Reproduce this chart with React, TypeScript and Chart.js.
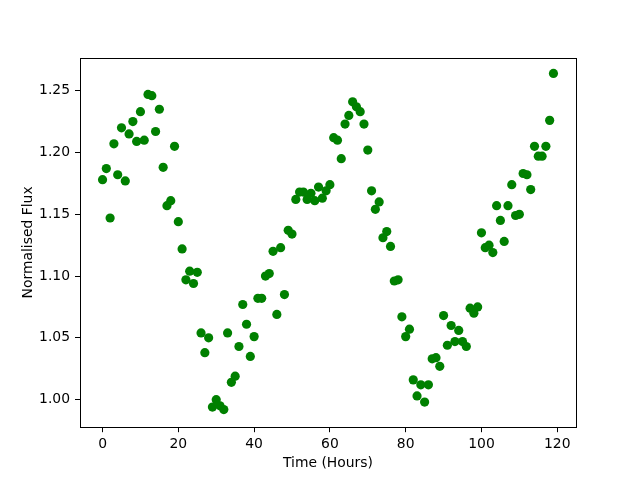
import React, { useEffect, useRef } from "react";
import { Chart, registerables } from "chart.js";

Chart.register(...registerables);

const hours = [
  0, 1, 2, 3, 4, 5, 6, 7, 8, 9, 10, 11, 12, 13, 14, 15, 16, 17, 18, 19,
  20, 21, 22, 23, 24, 25, 26, 27, 28, 29, 30, 31, 32, 33, 34, 35, 36, 37, 38, 39,
  40, 41, 42, 43, 44, 45, 46, 47, 48, 49, 50, 51, 52, 53, 54, 55, 56, 57, 58, 59,
  60, 61, 62, 63, 64, 65, 66, 67, 68, 69, 70, 71, 72, 73, 74, 75, 76, 77, 78, 79,
  80, 81, 82, 83, 84, 85, 86, 87, 88, 89, 90, 91, 92, 93, 94, 95, 96, 97, 98, 99,
  100, 101, 102, 103, 104, 105, 106, 107, 108, 109, 110, 111, 112, 113, 114, 115, 116, 117, 118, 119,
];

const flux = [
  1.178, 1.187, 1.147, 1.207, 1.182, 1.220, 1.177, 1.215, 1.225, 1.209,
  1.233, 1.210, 1.247, 1.246, 1.217, 1.235, 1.188, 1.157, 1.161, 1.205,
  1.144, 1.122, 1.097, 1.104, 1.094, 1.103, 1.054, 1.038, 1.050, 0.994,
  1.000, 0.995, 0.992, 1.054, 1.014, 1.019, 1.043, 1.077, 1.061, 1.035,
  1.051, 1.082, 1.082, 1.100, 1.102, 1.120, 1.069, 1.123, 1.085, 1.137,
  1.134, 1.162, 1.168, 1.168, 1.162, 1.167, 1.161, 1.172, 1.163, 1.169,
  1.174, 1.212, 1.210, 1.195, 1.223, 1.230, 1.241, 1.237, 1.233, 1.223,
  1.202, 1.169, 1.154, 1.160, 1.131, 1.136, 1.124, 1.096, 1.097, 1.067,
  1.051, 1.057, 1.016, 1.003, 1.012, 0.998, 1.012, 1.033, 1.034, 1.027,
  1.068, 1.044, 1.060, 1.047, 1.056, 1.047, 1.043, 1.074, 1.070, 1.075,
  1.135, 1.123, 1.125, 1.119, 1.157, 1.145, 1.128, 1.157, 1.174, 1.149,
  1.150, 1.183, 1.182, 1.170, 1.205, 1.197, 1.197, 1.205, 1.226, 1.264,
];

const xTicks = [0, 20, 40, 60, 80, 100, 120];
const yTicks = [1.0, 1.05, 1.1, 1.15, 1.2, 1.25];
const xLimits = [-5.95, 124.95];
const yLimits = [0.9777, 1.2768];
const xTitle = "Time (Hours)";
const yTitle = "Normalised Flux";

const FONT = { family: "'DejaVu Sans', sans-serif", size: 13.9, lineHeight: 1.2 };

const framePlugin = {
  id: "frame",
  afterDraw(chart: any) {
    const { ctx, chartArea } = chart;
    ctx.save();
    ctx.strokeStyle = "#000";
    ctx.lineWidth = 1;
    const l = Math.round(chartArea.left) + 0.5;
    const t = Math.round(chartArea.top) + 0.5;
    const r = Math.round(chartArea.right) + 0.5;
    const b = Math.round(chartArea.bottom) + 0.5;
    ctx.strokeRect(l, t, r - l, b - t);
    ctx.restore();
  },
};

export default function App() {
  const ref = useRef<HTMLCanvasElement>(null);
  useEffect(() => {
    if (!ref.current) return;
    const points = hours.map((h, i) => ({ x: h, y: flux[i] }));
    const chart = new Chart(ref.current, {
      type: "scatter",
      data: {
        datasets: [
          {
            data: points,
            backgroundColor: "#008000",
            borderWidth: 0,
            pointRadius: 4.6,
            pointHoverRadius: 4.6,
          },
        ],
      },
      options: {
        animation: false,
        responsive: false,
        devicePixelRatio: 1,
        layout: { padding: { top: 57.6, right: 64, left: 0, bottom: 0 } },
        plugins: { legend: { display: false }, tooltip: { enabled: false } },
        events: [],
        scales: {
          x: {
            type: "linear",
            min: xLimits[0],
            max: xLimits[1],
            afterFit: (s: any) => {
              s.height = 52.8;
            },
            afterBuildTicks: (s: any) => {
              s.ticks = xTicks.map((v) => ({ value: v }));
            },
            grid: {
              display: true,
              drawOnChartArea: false,
              drawTicks: true,
              tickLength: 5,
              tickColor: "#000",
              tickWidth: 1,
            },
            border: { display: false },
            ticks: {
              color: "#000",
              font: FONT,
              padding: 4,
              maxRotation: 0,
              callback: (v: any) => String(v),
            },
            title: {
              display: true,
              text: xTitle,
              color: "#000",
              font: FONT,
              padding: { top: 0, bottom: 8.7 },
            },
          },
          y: {
            type: "linear",
            min: yLimits[0],
            max: yLimits[1],
            afterFit: (s: any) => {
              s.width = 80;
            },
            afterBuildTicks: (s: any) => {
              s.ticks = yTicks.map((v) => ({ value: v }));
            },
            grid: {
              display: true,
              drawOnChartArea: false,
              drawTicks: true,
              tickLength: 5,
              tickColor: "#000",
              tickWidth: 1,
            },
            border: { display: false },
            ticks: {
              color: "#000",
              font: FONT,
              padding: 5,
              callback: (v: any) => Number(v).toFixed(2),
            },
            title: {
              display: true,
              text: yTitle,
              color: "#000",
              font: FONT,
              padding: { top: 20.5, bottom: 0 },
            },
          },
        },
      },
      plugins: [framePlugin],
    });
    return () => chart.destroy();
  }, []);
  return (
    <div style={{ position: "absolute", left: 0, top: 0, width: 640, height: 480, background: "#fff" }}>
      <canvas ref={ref} width={640} height={480} />
    </div>
  );
}
